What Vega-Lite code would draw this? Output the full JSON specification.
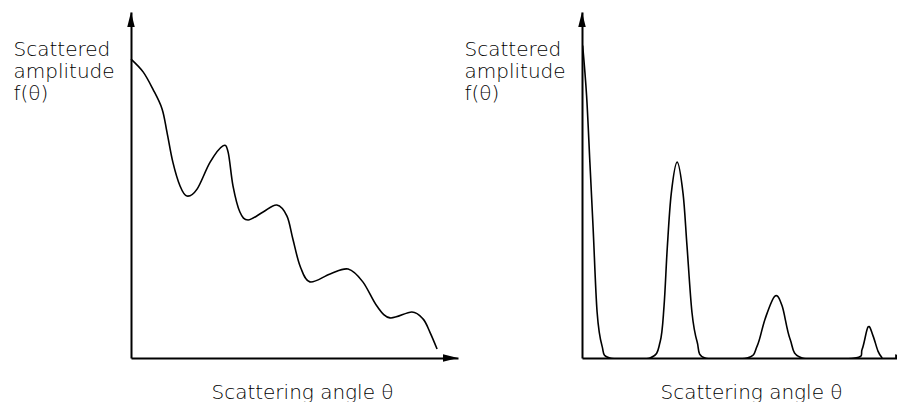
{
  "$schema": "https://vega.github.io/schema/vega-lite/v6.json",
  "background": "white",
  "padding": {"left": 13, "top": 12, "right": 0, "bottom": 0},
  "bounds": "flush",
  "spacing": 124,
  "config": {
    "view": {"stroke": null},
    "axis": {
      "labels": false, "ticks": false, "grid": false,
      "domainColor": "black", "domainWidth": 2,
      "titleFont": "DejaVu Sans", "titleFontSize": 20, "titleFontWeight": 200, "titleColor": "black"
    }
  },
  "datasets": {
    "left": [
      {"angle": 0, "amp": 86.4}, {"angle": 3.7, "amp": 82.7}, {"angle": 6.7, "amp": 77.7},
      {"angle": 9.5, "amp": 72.0}, {"angle": 11.0, "amp": 65.3}, {"angle": 12.8, "amp": 56.6},
      {"angle": 15.0, "amp": 49.7}, {"angle": 17.1, "amp": 46.8}, {"angle": 20.2, "amp": 48.8},
      {"angle": 24.2, "amp": 56.6}, {"angle": 28.1, "amp": 61.3}, {"angle": 29.7, "amp": 59.5},
      {"angle": 31.2, "amp": 49.7}, {"angle": 33.3, "amp": 42.2}, {"angle": 35.8, "amp": 39.9},
      {"angle": 40.4, "amp": 42.2}, {"angle": 44.6, "amp": 44.2}, {"angle": 47.7, "amp": 41.0},
      {"angle": 49.5, "amp": 34.4}, {"angle": 51.7, "amp": 26.6}, {"angle": 54.7, "amp": 22.0},
      {"angle": 60.9, "amp": 24.3}, {"angle": 66.4, "amp": 25.7}, {"angle": 70.9, "amp": 22.0},
      {"angle": 75.2, "amp": 15.0}, {"angle": 79.2, "amp": 11.6}, {"angle": 85.9, "amp": 13.3},
      {"angle": 89.3, "amp": 11.3}, {"angle": 91.4, "amp": 7.5}, {"angle": 93.6, "amp": 2.6}
    ],
    "right": [
      {"angle": 0.2, "amp": 90.3}, {"angle": 1.4, "amp": 75.8}, {"angle": 2.4, "amp": 56.6},
      {"angle": 3.4, "amp": 37.3}, {"angle": 4.6, "amp": 13.3}, {"angle": 6.1, "amp": 3.5},
      {"angle": 8.5, "amp": 0}, {"angle": 20.7, "amp": 0}, {"angle": 23.8, "amp": 4.6},
      {"angle": 25.0, "amp": 15.0}, {"angle": 26.0, "amp": 32.0},
      {"angle": 27.2, "amp": 47.5}, {"angle": 29.0, "amp": 56.6},
      {"angle": 30.8, "amp": 47.5}, {"angle": 32.0, "amp": 32.4},
      {"angle": 33.5, "amp": 13.3}, {"angle": 35.1, "amp": 4.6}, {"angle": 37.5, "amp": 0},
      {"angle": 50.3, "amp": 0}, {"angle": 53.4, "amp": 3.5}, {"angle": 55.8, "amp": 11.3},
      {"angle": 58.8, "amp": 17.9}, {"angle": 61.0, "amp": 15.0}, {"angle": 63.4, "amp": 5.5},
      {"angle": 67.1, "amp": 0}, {"angle": 83.2, "amp": 0}, {"angle": 85.4, "amp": 2.6},
      {"angle": 87.2, "amp": 9.0}, {"angle": 88.7, "amp": 6.4}, {"angle": 90.2, "amp": 2.0},
      {"angle": 91.5, "amp": 0}
    ],
    "arrows": [
      {"angle": 0, "amp": 100, "dir": "up"},
      {"angle": 100, "amp": 0, "dir": "right"}
    ]
  },
  "hconcat": [
    {
      "width": 327, "height": 346,
      "layer": [
        {
          "data": {"name": "left"},
          "mark": {"type": "line", "interpolate": "cardinal", "color": "black", "strokeWidth": 1.6},
          "encoding": {
            "x": {"field": "angle", "type": "quantitative", "scale": {"domain": [0, 100], "nice": false, "zero": false},
                  "axis": {"title": "Scattering angle θ", "titleX": 171, "titleY": 40, "titleAlign": "center", "titleBaseline": "alphabetic"}},
            "y": {"field": "amp", "type": "quantitative", "scale": {"domain": [0, 100], "nice": false},
                  "axis": {"title": ["Scattered", "amplitude", "f(θ)"], "titleAngle": 0, "titleX": -118, "titleY": 43, "titleAlign": "left", "titleBaseline": "alphabetic", "titleLineHeight": 22}}
          }
        },
        {
          "data": {"name": "arrows"},
          "mark": {"type": "point", "filled": true, "color": "black", "opacity": 1, "size": 225},
          "encoding": {
            "x": {"field": "angle", "type": "quantitative"},
            "y": {"field": "amp", "type": "quantitative"},
            "shape": {"field": "dir", "type": "nominal", "scale": {"domain": ["up", "right"], "range": ["M0,0L-0.5,2L0.5,2Z", "M0,0L-2,-0.5L-2,0.5Z"]}, "legend": null}
          }
        }
      ]
    },
    {
      "width": 315, "height": 346,
      "layer": [
        {
          "data": {"name": "right"},
          "mark": {"type": "line", "interpolate": "cardinal", "color": "black", "strokeWidth": 1.6, "clip": true},
          "encoding": {
            "x": {"field": "angle", "type": "quantitative", "scale": {"domain": [0, 96], "nice": false, "zero": false},
                  "axis": {"title": "Scattering angle θ", "titleX": 169, "titleY": 40, "titleAlign": "center", "titleBaseline": "alphabetic"}},
            "y": {"field": "amp", "type": "quantitative", "scale": {"domain": [0, 100], "nice": false},
                  "axis": {"title": ["Scattered", "amplitude", "f(θ)"], "titleAngle": 0, "titleX": -118, "titleY": 43, "titleAlign": "left", "titleBaseline": "alphabetic", "titleLineHeight": 22}}
          }
        },
        {
          "data": {"name": "arrows"},
          "transform": [{"filter": "datum.dir == 'up'"}],
          "mark": {"type": "point", "filled": true, "color": "black", "opacity": 1, "size": 225},
          "encoding": {
            "x": {"field": "angle", "type": "quantitative"},
            "y": {"field": "amp", "type": "quantitative"},
            "shape": {"field": "dir", "type": "nominal", "scale": {"domain": ["up", "right"], "range": ["M0,0L-0.5,2L0.5,2Z", "M0,0L-2,-0.5L-2,0.5Z"]}, "legend": null}
          }
        },
        {
          "data": {"name": "arrows"},
          "transform": [{"filter": "datum.dir == 'right'"}],
          "mark": {"type": "point", "filled": true, "color": "black", "opacity": 1, "size": 225, "clip": true},
          "encoding": {
            "x": {"field": "angle", "type": "quantitative"},
            "y": {"field": "amp", "type": "quantitative"},
            "shape": {"field": "dir", "type": "nominal", "scale": {"domain": ["up", "right"], "range": ["M0,0L-0.5,2L0.5,2Z", "M0,0L-2,-0.5L-2,0.5Z"]}, "legend": null}
          }
        }
      ]
    }
  ]
}
